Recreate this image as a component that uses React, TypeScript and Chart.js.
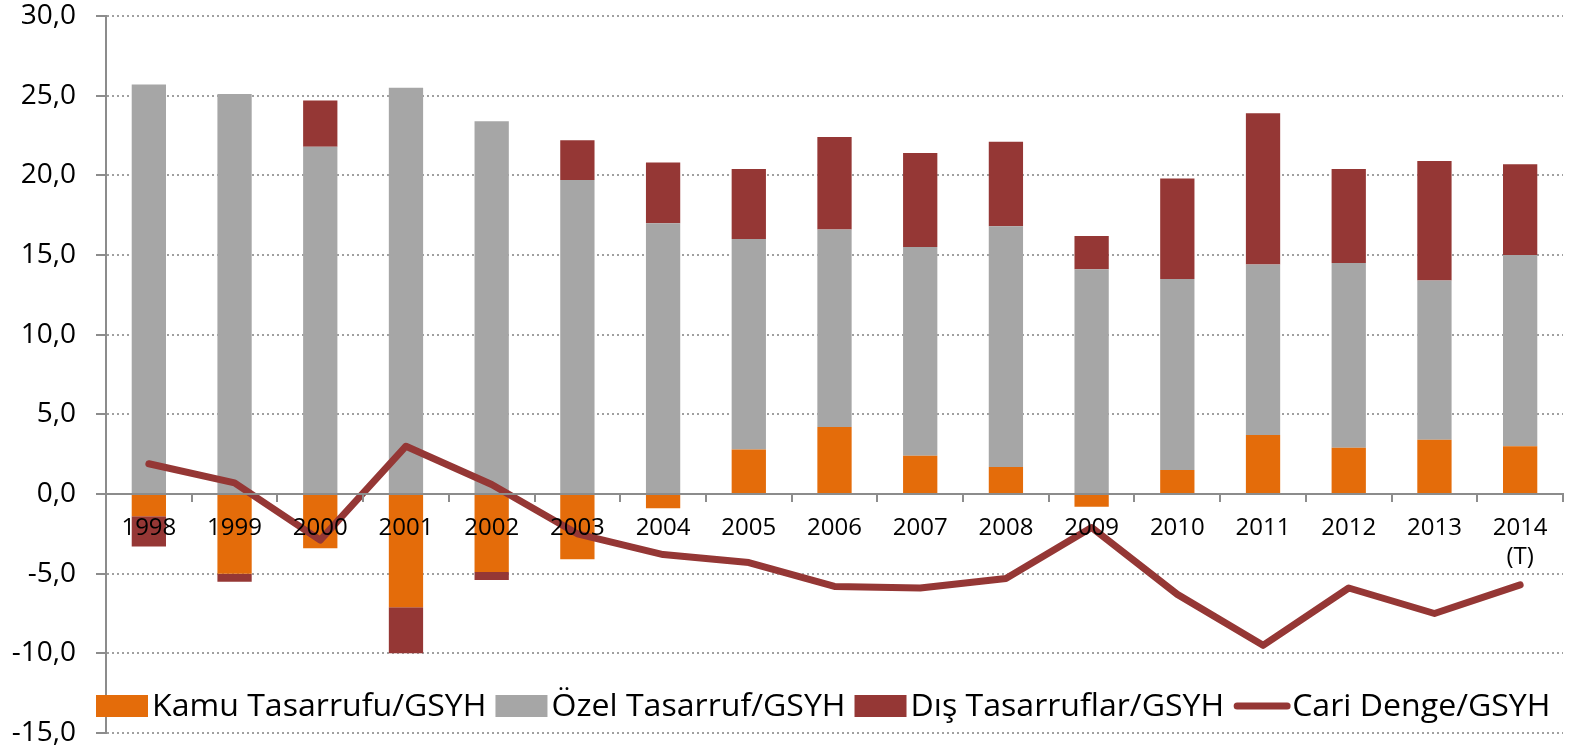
import React, { useEffect, useRef } from 'react';
import { Chart, registerables } from 'chart.js';

Chart.register(...registerables);

const years: (string | string[])[] = [
  '1998', '1999', '2000', '2001', '2002', '2003', '2004', '2005', '2006',
  '2007', '2008', '2009', '2010', '2011', '2012', '2013', ['2014', '(T)'],
];
const kamu = [-1.4, -5.0, -3.4, -7.1, -4.9, -4.1, -0.9, 2.8, 4.2, 2.4, 1.7, -0.8, 1.5, 3.7, 2.9, 3.4, 3.0];
const ozel = [25.7, 25.1, 21.8, 25.5, 23.4, 19.7, 17.0, 13.2, 12.4, 13.1, 15.1, 14.1, 12.0, 10.7, 11.6, 10.0, 12.0];
const dis = [-1.9, -0.5, 2.9, -2.9, -0.5, 2.5, 3.8, 4.4, 5.8, 5.9, 5.3, 2.1, 6.3, 9.5, 5.9, 7.5, 5.7];
const cari = [1.9, 0.7, -2.9, 3.0, 0.6, -2.5, -3.8, -4.3, -5.8, -5.9, -5.3, -2.1, -6.3, -9.5, -5.9, -7.5, -5.7];

const seriesNames = ['Kamu Tasarrufu/GSYH', 'Özel Tasarruf/GSYH', 'Dış Tasarruflar/GSYH', 'Cari Denge/GSYH'];
const ORANGE = '#E46C0A';
const GRAY = '#A6A6A6';
const RED = '#953735';
const AXIS = '#8C8C8C';
const FONT = '"Open Sans", sans-serif';

const legendPlugin = {
  id: 'bottomLegend',
  afterDraw(chart: any) {
    const ctx = chart.ctx as CanvasRenderingContext2D;
    const cy = chart.height - 44;
    const sx = 1.035;
    let x = 96;
    ctx.save();
    ctx.font = `31px ${FONT}`;
    ctx.textBaseline = 'middle';
    ctx.textAlign = 'left';
    chart.data.datasets.forEach((ds: any) => {
      if (ds.type === 'line') {
        ctx.strokeStyle = ds.borderColor;
        ctx.lineWidth = 7;
        ctx.lineCap = 'round';
        ctx.beginPath();
        ctx.moveTo(x + 4, cy);
        ctx.lineTo(x + 54, cy);
        ctx.stroke();
        x += 59;
      } else {
        ctx.fillStyle = ds.backgroundColor;
        ctx.fillRect(x, cy - 11, 52, 22);
        x += 56;
      }
      ctx.fillStyle = '#000';
      ctx.save();
      ctx.translate(x, cy + 1);
      ctx.scale(sx, 1);
      ctx.fillText(ds.label, 0, 0);
      ctx.restore();
      x += ctx.measureText(ds.label).width * sx + 9;
    });
    ctx.restore();
  },
};

const barCommon = { stack: 'bars', order: 2, categoryPercentage: 1, barPercentage: 0.4 };

export default function App() {
  const ref = useRef<HTMLCanvasElement | null>(null);

  useEffect(() => {
    document.body.style.margin = '0';
    const canvas = ref.current;
    if (!canvas) return;
    const chart = new Chart(canvas, {
      type: 'bar',
      data: {
        labels: years,
        datasets: [
          { type: 'bar', label: seriesNames[0], data: kamu, backgroundColor: ORANGE, ...barCommon },
          { type: 'bar', label: seriesNames[1], data: ozel, backgroundColor: GRAY, ...barCommon },
          { type: 'bar', label: seriesNames[2], data: dis, backgroundColor: RED, ...barCommon },
          {
            type: 'line', label: seriesNames[3], data: cari, borderColor: RED, backgroundColor: RED,
            borderWidth: 7, pointRadius: 0, borderCapStyle: 'round', borderJoinStyle: 'round',
            tension: 0, stack: 'line', order: 1,
          } as any,
        ],
      },
      options: {
        animation: false,
        responsive: false,
        devicePixelRatio: 1,
        layout: { padding: { top: 16, right: 6, bottom: 17, left: 0 } },
        plugins: { legend: { display: false }, tooltip: { enabled: false } },
        scales: {
          x: {
            type: 'category',
            stacked: true,
            position: { y: 0 } as any,
            grid: { display: true, drawOnChartArea: false, offset: true, tickLength: 7, color: AXIS, lineWidth: 2, z: 1 },
            border: { display: true, color: AXIS, width: 2, z: 1 },
            ticks: { color: '#000', font: { family: FONT, size: 24 }, padding: 13, maxRotation: 0, autoSkip: false, z: 2 },
          } as any,
          y: {
            min: -15,
            max: 30,
            stacked: true,
            afterFit: (s: any) => { s.width = 106; s.paddingTop = 0; s.paddingBottom = 0; },
            grid: { color: '#A0A0A0', lineWidth: 2, tickLength: 10, tickColor: AXIS, tickBorderDash: [], tickWidth: 2 },
            border: { display: true, color: AXIS, width: 2, dash: [2, 3] },
            ticks: {
              stepSize: 5,
              color: '#000',
              font: { family: FONT, size: 28 },
              padding: 20,
              callback: (v: any) => Number(v).toFixed(1).replace('.', ','),
            },
          } as any,
        },
      } as any,
      plugins: [legendPlugin],
    });
    return () => chart.destroy();
  }, []);

  return <canvas ref={ref} width={1569} height={750} style={{ display: 'block', width: 1569, height: 750 }} />;
}
